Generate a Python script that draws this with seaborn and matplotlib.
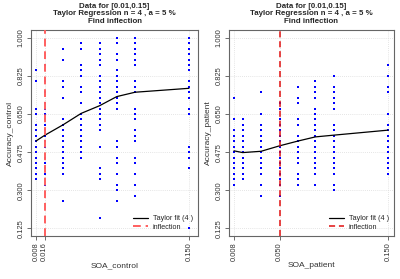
import numpy as np
import pandas as pd
import matplotlib
matplotlib.use("Agg")
import matplotlib.pyplot as plt
import seaborn as sns

# ---------------- data ----------------
soa_levels = [0.008, 0.016, 0.033, 0.050, 0.067, 0.083, 0.100, 0.150]
n_trials = 40

# correct answers (out of 40) per subject, for each SOA level
control_correct = [
    [34, 32, 27, 26, 24, 23, 22, 21, 20, 19, 18, 17, 16, 15, 14],
    [35, 32, 30, 28, 27, 26, 25, 24, 23, 22, 21, 20, 18, 17, 16, 15, 13],
    [38, 36, 32, 31, 29, 25, 24, 23, 22, 21, 20, 19, 18, 17, 16, 15, 10],
    [39, 38, 35, 34, 33, 31, 30, 28, 26, 25, 24, 23, 22, 21, 20, 19, 18],
    [39, 38, 37, 36, 35, 33, 32, 31, 30, 29, 28, 27, 26, 25, 24, 23, 20, 16, 15, 14, 7],
    [40, 39, 37, 36, 34, 33, 32, 31, 30, 29, 28, 27, 21, 20, 18, 17, 15, 13, 12, 10],
    [40, 39, 38, 37, 36, 35, 32, 31, 30, 27, 26, 25, 23, 22, 21, 18, 17, 15, 13, 11],
    [40, 39, 38, 37, 36, 35, 34, 32, 31, 30, 29, 27, 26, 20, 19, 18, 16, 5],
]
patient_correct = [
    [29, 25, 23, 22, 21, 20, 19, 18, 17, 16, 15, 14, 13],
    [25, 24, 23, 22, 21, 20, 19, 18, 17, 16, 15, 14],
    [30, 26, 24, 23, 22, 21, 20, 19, 18, 17, 16, 15, 13, 11],
    [28, 27, 25, 24, 23, 22, 21, 20, 19, 18, 17, 16, 15, 14, 13, 11],
    [31, 29, 28, 25, 24, 22, 21, 20, 19, 18, 17, 15, 14, 13],
    [32, 31, 30, 29, 27, 26, 25, 24, 23, 22, 21, 20, 19, 18, 17, 16, 15, 13],
    [33, 31, 30, 29, 28, 27, 24, 23, 22, 21, 20, 19, 18, 17, 16, 15, 13, 12],
    [35, 33, 31, 30, 26, 24, 23, 22, 21, 20, 19, 18, 17, 16, 15],
]

control_fit = [0.526, 0.552, 0.600, 0.653, 0.688, 0.730, 0.750, 0.768]
patient_fit = [0.481, 0.473, 0.479, 0.504, 0.526, 0.545, 0.553, 0.576]

control_inflection = 0.016
patient_inflection = 0.050

y_ticks = [0.125, 0.300, 0.475, 0.650, 0.825, 1.000]
control_xticks = [0.008, 0.016, 0.150]
patient_xticks = [0.008, 0.050, 0.150]

title_lines = "Data for [0.01,0.15]\nTaylor Regression n = 4 , a = 5 %\nFind inflection"


def points_frame(correct):
    rows = []
    for soa, vals in zip(soa_levels, correct):
        for c in vals:
            rows.append((soa, c / n_trials))
    return pd.DataFrame(rows, columns=["soa", "acc"])


sns.set_style("white")
plt.rcParams["font.family"] = ["Liberation Sans", "DejaVu Sans"]

fig = plt.figure(figsize=(4.0, 2.79), dpi=100)
ax1 = fig.add_axes([0.0775, 0.154, 0.4175, 0.738])
ax2 = fig.add_axes([0.5725, 0.154, 0.4125, 0.738])

panels = [
    (ax1, control_correct, control_fit, control_inflection, control_xticks,
     "SOA_control", "Accuracy_control", "#ff5f5f", 1.4, (0.0034, 0.1584)),
    (ax2, patient_correct, patient_fit, patient_inflection, patient_xticks,
     "SOA_patient", "Accuracy_patient", "#e01010", 1.1, (0.0034, 0.1555)),
]

for ax, correct, fit, infl, xt, xl, yl, icol, ilw, xlim in panels:
    df = points_frame(correct)
    fit_df = pd.DataFrame({"soa": soa_levels, "acc": fit})

    ax.set_xlim(*xlim)
    ax.set_ylim(0.09, 1.035)
    ax.set_xticks(xt)
    ax.set_xticklabels([f"{v:.3f}" for v in xt], rotation=90)
    ax.set_yticks(y_ticks)
    ax.set_yticklabels([f"{v:.3f}" for v in y_ticks], rotation=90, va="center")

    for v in xt:
        ax.axvline(v, color="#dcdcdc", lw=0.6, ls=(0, (1, 1.5)), zorder=0)
    for v in y_ticks:
        ax.axhline(v, color="#dcdcdc", lw=0.6, ls=(0, (1, 1.5)), zorder=0)

    sns.scatterplot(data=df, x="soa", y="acc", ax=ax, color="#0000ff",
                    s=3.4, marker="s", linewidth=0, zorder=3, legend=False)
    sns.lineplot(data=fit_df, x="soa", y="acc", ax=ax, color="black",
                 lw=0.9, zorder=4, label="Taylor fit (4 )")
    ax.axvline(infl, color=icol, lw=ilw, ls=(0, (4, 2.5)), zorder=5,
               label="inflection")

    ax.set_xlabel(xl, fontsize=6, labelpad=1, color="#333333")
    ax.set_ylabel(yl, fontsize=6, labelpad=3, color="#333333")
    ax.set_title(title_lines, fontsize=5.7, fontweight="bold", pad=5,
                 linespacing=1.15)
    ax.tick_params(axis="both", labelsize=5.4, length=3, width=0.6,
                   color="#555555", labelcolor="#333333", direction="out",
                   bottom=True, left=True, pad=1.5)
    for s in ax.spines.values():
        s.set_color("#666666")
        s.set_linewidth(0.8)
    leg = ax.legend(loc="lower right", fontsize=5.2, frameon=False,
                    handlelength=2.2, borderaxespad=0.3, labelspacing=0.2,
                    handletextpad=0.6)

fig.savefig("out.png", dpi=100)
